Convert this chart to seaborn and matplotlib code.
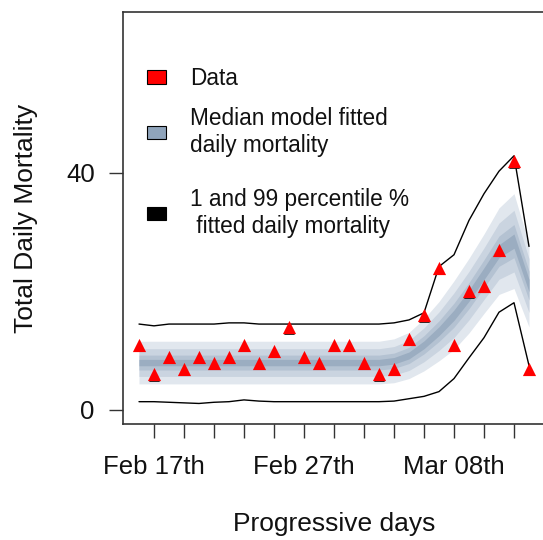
import matplotlib
matplotlib.use("Agg")
import matplotlib.pyplot as plt
import matplotlib.transforms as mtransforms
from matplotlib.patches import Patch
import numpy as np
import pandas as pd
import seaborn as sns

# Daily observations, 16 Feb - 13 Mar 2020 (day index 0..26)
days = list(range(27))
deaths = [11, 6, 9, 7, 9, 8, 9, 11, 8, 10, 14, 9, 8, 11, 11, 8, 6, 7,
          12, 16, 24, 11, 20, 21, 27, 42, 7]

# Model fit: median and half-width of the widest credible band
fit_median = [8.0] * 17 + [8.3, 9.2, 11.0, 13.3, 16.0, 19.3, 23.0, 26.8, 28.5, 21.0]
fit_spread = [3.6] * 17 + [3.7, 3.9, 4.4, 5.0, 5.8, 6.3, 6.7, 7.3, 8.0, 7.0]

# 1st and 99th percentile envelopes
pct_99 = [14.5, 14.2, 14.5, 14.5, 14.5, 14.5, 14.7, 14.7, 14.5, 14.5, 14.5,
          14.5, 14.5, 14.5, 14.5, 14.5, 14.5, 14.7, 15.2, 16.4, 24.2, 26.2,
          32.0, 36.5, 40.3, 42.9, 27.6]
pct_01 = [1.4, 1.4, 1.3, 1.2, 1.1, 1.3, 1.4, 1.7, 1.5, 1.4, 1.4, 1.4, 1.4,
          1.4, 1.4, 1.4, 1.4, 1.5, 1.9, 2.3, 3.1, 5.3, 8.8, 12.2, 16.5, 18.1, 7.5]

# Axis ticks
x_ticks = list(range(1, 27, 2))
x_labeled = {1: "Feb 17th", 11: "Feb 27th", 21: "Mar 08th"}
y_ticks = [0, 40]

legend_labels = ["Data", "Median model fitted\ndaily mortality",
                 "1 and 99 percentile %\n fitted daily mortality"]

# Fan bands: fraction of the widest half-width, outermost first
band_fracs = [1.0, 0.65, 0.35, 0.15]
band_colors = ["#e1e7ee", "#cad4e0", "#b4c2d2", "#9badc1"]

sns.set_style("white")
plt.rcParams["font.family"] = ["Liberation Sans", "DejaVu Sans"]

df = pd.DataFrame({"day": days, "deaths": deaths, "median": fit_median,
                   "spread": fit_spread, "p99": pct_99, "p01": pct_01})

fig = plt.figure(figsize=(5.43, 5.40), dpi=100)
W, H = 543, 540
ax = fig.add_axes([122.5 / W, 1 - 424.2 / H, 423 / W, 412.4 / H])

med = df["median"].to_numpy()
spr = df["spread"].to_numpy()
for frac, col in zip(band_fracs, band_colors):
    ax.fill_between(df["day"], med - frac * spr, med + frac * spr,
                    color=col, linewidth=0, zorder=1)

sns.lineplot(data=df, x="day", y="p99", color="black", linewidth=1.0,
             estimator=None, ax=ax, zorder=3)
sns.lineplot(data=df, x="day", y="p01", color="black", linewidth=1.0,
             estimator=None, ax=ax, zorder=3)

shadow = mtransforms.offset_copy(ax.transData, fig=fig, x=0, y=-1.5, units="dots")
sns.scatterplot(data=df, x="day", y="deaths", marker="^", s=60, color="#111111",
                linewidth=0, ax=ax, zorder=4, transform=shadow)
sns.scatterplot(data=df, x="day", y="deaths", marker="^", s=90, color="#ff0000",
                linewidth=0, ax=ax, zorder=5)

ax.set_xlim(-1.1, 27.1)
ax.set_ylim(-2.4, 67.2)
ax.set_xticks(x_ticks)
ax.set_xticklabels([x_labeled.get(t, "") for t in x_ticks])
ax.set_yticks(y_ticks)
ax.set_yticklabels([str(v) for v in y_ticks])

for side in ["left", "bottom", "top"]:
    ax.spines[side].set_color("#333333")
    ax.spines[side].set_linewidth(1.2)
ax.spines["right"].set_visible(False)

ax.tick_params(axis="both", direction="out", length=10, width=1.0,
               color="#333333", labelsize=18.5, labelcolor="#111111",
               bottom=True, left=True, top=False, right=False)
ax.tick_params(axis="x", pad=12)
ax.tick_params(axis="y", pad=10)

ax.set_xlabel("Progressive days", fontsize=19, color="#111111", labelpad=24)
ax.set_ylabel("Total Daily Mortality", fontsize=19, color="#111111", labelpad=20)

legend_kw = dict(loc="upper left", bbox_transform=fig.transFigure,
                 frameon=False, borderpad=0, borderaxespad=0, fontsize=16.3,
                 handlelength=0.84, handleheight=0.53, handletextpad=1.06,
                 labelspacing=0.75, labelcolor="#111111")
handles = [Patch(facecolor="#ff0000", edgecolor="black", linewidth=0.8),
           Patch(facecolor="#8fa4bb", edgecolor="black", linewidth=0.8),
           Patch(facecolor="black", edgecolor="black", linewidth=0.8)]
leg_top = ax.legend(handles[:2], legend_labels[:2],
                    bbox_to_anchor=(147 / W, 1 - 67 / H), **legend_kw)
ax.add_artist(leg_top)
ax.legend(handles[2:], legend_labels[2:],
          bbox_to_anchor=(147 / W, 1 - 188 / H), **legend_kw)

fig.savefig("out.png", dpi=100)
